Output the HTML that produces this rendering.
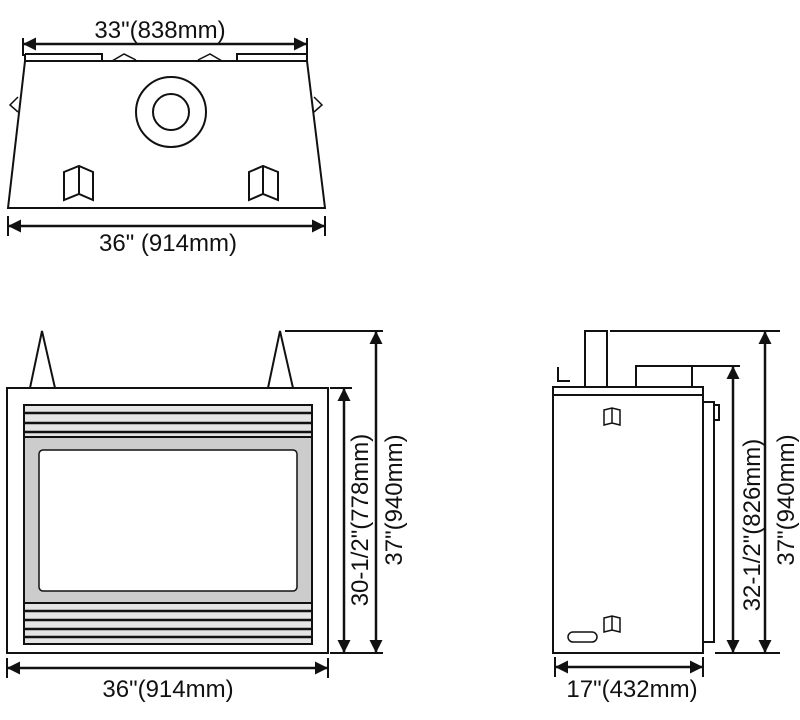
<!DOCTYPE html>
<html><head><style>body{margin:0;background:#fff}svg{display:block}text{font-family:"Liberation Sans",sans-serif;font-size:24px;fill:#111}</style></head><body>
<svg width="800" height="720" viewBox="0 0 800 720" xmlns="http://www.w3.org/2000/svg">
<defs>
<marker id="b" viewBox="0 0 10 10" refX="10" refY="5" markerWidth="17" markerHeight="13" orient="auto-start-reverse" markerUnits="userSpaceOnUse"><path d="M0 0L10 5L0 10z" fill="#111"/></marker></defs>
<g stroke="#111" stroke-width="2" fill="none">
<!-- top view -->
<path d="M25 61L307 61L325 208L8 208Z" fill="#fff"/>
<path d="M25 54H102V61M237 61V54H307V61M25 54V61M307 54V61"/>
<path d="M112 61L124 54L136 60M198 60L210 54L222 61" stroke-width="1.5"/>
<path d="M18 97L10 105L18 112M314 97L322 105L314 112" stroke-width="1.5"/>
<circle cx="171" cy="112" r="35"/><circle cx="171" cy="112" r="18"/>
<path d="M64 172L79 166L93 172V200L79 194L64 200ZM79 166V194"/>
<path d="M249 172L263 166L278 172V200L263 194L249 200ZM263 166V194"/>
<line x1="23" y1="44" x2="307" y2="44" stroke-width="2.5" marker-start="url(#b)" marker-end="url(#b)"/>
<path d="M23 38V56M307 38V56"/>
<line x1="8" y1="226" x2="325" y2="226" stroke-width="2.5" marker-start="url(#b)" marker-end="url(#b)"/>
<path d="M8 216V236M325 216V236"/>
<!-- front view -->
<path d="M30 388L42 331L55 388M268 388L280 331L293 388"/>
<rect x="7" y="388" width="321" height="265"/>
<rect x="24" y="405" width="288" height="239" fill="#ccc" stroke="#111"/>
<rect x="24" y="405" width="288" height="32" fill="#e4e4e4" stroke="#111"/>
<rect x="24" y="603" width="288" height="41" fill="#e4e4e4" stroke="#111"/>
<path d="M24 413H312M24 423H312M24 432H312M24 611H312M24 620H312M24 629H312M24 637H312" stroke-width="2.5"/>
<rect x="39" y="450" width="258" height="141" rx="4" fill="#fff" stroke-width="1.5"/>
<path d="M285 331H383M330 388H352M330 653H383"/>
<line x1="344" y1="388" x2="344" y2="653" stroke-width="2.5" marker-start="url(#b)" marker-end="url(#b)"/>
<line x1="376" y1="331" x2="376" y2="653" stroke-width="2.5" marker-start="url(#b)" marker-end="url(#b)"/>
<line x1="7" y1="668" x2="328" y2="668" stroke-width="2.5" marker-start="url(#b)" marker-end="url(#b)"/>
<path d="M7 658V678M328 658V678"/>
<!-- side view -->
<rect x="585" y="331" width="22" height="56"/>
<rect x="636" y="366" width="56" height="21"/>
<path d="M558 367V381H570"/>
<rect x="553" y="387" width="150" height="8"/>
<rect x="553" y="395" width="150" height="258"/>
<rect x="703" y="402" width="11" height="240"/>
<rect x="714" y="405" width="5" height="15"/>
<path d="M604 410L612 408L620 410V425L612 423L604 425ZM612 408V423" stroke-width="1.5"/>
<path d="M604 618L612 616L620 618V632L612 630L604 632ZM612 616V630" stroke-width="1.5"/>
<rect x="568" y="632" width="29" height="10" rx="5" stroke-width="1.5"/>
<path d="M610 331H780M676 366H740M715 653H780"/>
<line x1="733" y1="366" x2="733" y2="653" stroke-width="2.5" marker-start="url(#b)" marker-end="url(#b)"/>
<line x1="765" y1="331" x2="765" y2="653" stroke-width="2.5" marker-start="url(#b)" marker-end="url(#b)"/>
<line x1="555" y1="667" x2="703" y2="667" stroke-width="2.5" marker-start="url(#b)" marker-end="url(#b)"/>
<path d="M555 657V677M703 657V677"/>
</g>
<g text-anchor="middle">
<text x="160" y="38">33"(838mm)</text>
<text x="168" y="251">36" (914mm)</text>
<text x="168" y="697">36"(914mm)</text>
<text x="632" y="697">17"(432mm)</text>
<text transform="translate(368 520) rotate(-90)">30-1/2"(778mm)</text>
<text transform="translate(402 500) rotate(-90)">37"(940mm)</text>
<text transform="translate(760 525) rotate(-90)">32-1/2"(826mm)</text>
<text transform="translate(794 500) rotate(-90)">37"(940mm)</text>
</g>
</svg>
</body></html>
